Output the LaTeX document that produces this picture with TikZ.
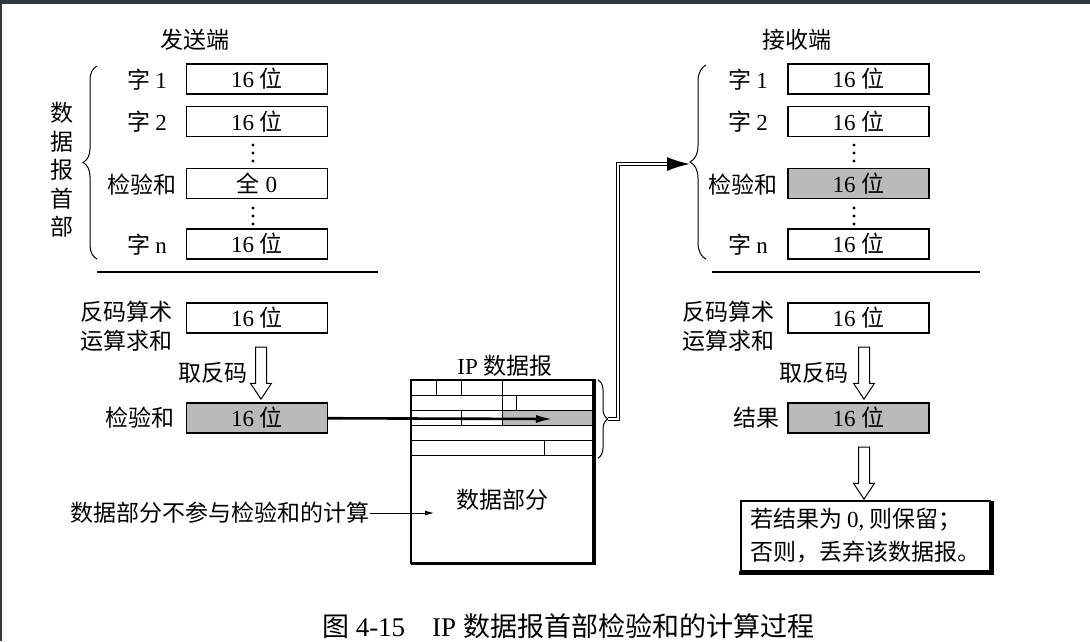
\documentclass[tikz,border=0pt]{standalone}
\usepackage{fontspec}
\setmainfont{Liberation Serif}
\newfontfamily\cjk{Noto Sans CJK SC}
\usetikzlibrary{arrows.meta,positioning,shapes.arrows,decorations.pathreplacing}

\begin{document}
\begin{tikzpicture}[x=1pt,y=-1pt,
  word/.style={draw,line width=1.1pt,minimum width=141pt,minimum height=30pt,inner sep=0pt,font=\fontsize{23}{26}\selectfont},
  shaded/.style={word,fill=black!27},
  lbl/.style={inner sep=0pt,font=\fontsize{23}{29}\selectfont\cjk},
  brace/.style={decorate,decoration={brace,amplitude=14pt},line width=1pt},
  hollow/.style={single arrow,draw,line width=1pt,inner sep=5pt,single arrow head extend=5pt,single arrow tip angle=67,rotate=-90},
  rule/.style={line width=1.1pt},
  cell/.style={line width=0.9pt}]
\useasboundingbox (0,0) rectangle (1090,641);
\fill[fill={rgb,255:red,50;green,55;blue,61}] (0,0) rectangle (1090,4);
\fill[fill={rgb,255:red,50;green,55;blue,61}] (0,0) rectangle (2,641);
% sender
\node[lbl] (sendtitle) at (195,40) {发送端};
\node[word] (sw1) at (257,79) {16 {\cjk 位}};
\node[word] (sw2) at (257,121.5) {16 {\cjk 位}};
\node[word] (sck) at (257,183.5) {{\cjk 全} 0};
\node[word] (swn) at (257,244) {16 {\cjk 位}};
\node[lbl] at (147,80) {字 {\rmfamily 1}};
\node[lbl] at (147,122) {字 {\rmfamily 2}};
\node[lbl] at (142,185) {检验和};
\node[lbl] at (147,245) {字 {\rmfamily n}};
\foreach \y in {145,153,161,208,216,224} \fill (253,\y) circle (1.6);
\draw[brace] (97,259) -- (97,66);
\node[lbl,align=center,font=\fontsize{23}{28.5}\selectfont\cjk] (shead) at (62,170) {数\\据\\报\\首\\部};
\draw[rule] (97,272) -- (378,272);
\node[word] (ssum) at (257,318) {16 {\cjk 位}};
\node[lbl,align=center] at (126,326) {反码算术\\运算求和};
\node[hollow,minimum height=52pt] (sinv) at (261,369) {};
\node[lbl] at (213,373) {取反码};
\node[shaded] (schk) at (257,418) {16 {\cjk 位}};
\node[lbl] at (140,418) {检验和};
% datagram
\node[inner sep=0pt,font=\fontsize{23}{26}\selectfont] (dgtitle) at (505,366) {IP {\cjk 数据报}};
\fill[black!27] (502,410) rectangle (594,425);
\foreach \y in {395,410,425,440,455} \draw[cell] (411,\y) -- (594,\y);
\draw[cell] (436,380) -- (436,395);
\draw[cell] (461,380) -- (461,395);
\draw[cell] (502,380) -- (502,425);
\draw[cell] (516,395) -- (516,410);
\draw[cell] (461,410) -- (461,425);
\draw[cell] (544,440) -- (544,455);
\draw[line width=1.2pt] (411,380) rectangle (594,563);
\draw[line width=4pt] (594,379) -- (594,563.5);
\draw[line width=3pt] (596,563) -- (410.5,563);
\node[lbl] (dgdata) at (502,500) {数据部分};
\draw[brace,decoration={brace,amplitude=10pt}] (598,380) -- (598,458);
\coordinate (dgtip) at (608,419);
\coordinate (cktip) at (553,419);
\draw[line width=2.6pt,-{Latex[length=17pt,width=8pt]}] (schk) -- (cktip);
\node[lbl,anchor=east] (note) at (370,513) {数据部分不参与检验和的计算};
\coordinate (notetip) at (434,513);
\draw[line width=1pt,-{Latex[length=9pt,width=5pt]}] (note) -- (notetip);
% receiver
\node[lbl] (recvtitle) at (797,40) {接收端};
\node[word] (rw1) at (858.5,79) {16 {\cjk 位}};
\node[word] (rw2) at (858.5,121.5) {16 {\cjk 位}};
\node[shaded] (rck) at (858.5,183.5) {16 {\cjk 位}};
\node[word] (rwn) at (858.5,244) {16 {\cjk 位}};
\node[lbl] at (748,80) {字 {\rmfamily 1}};
\node[lbl] at (748,122) {字 {\rmfamily 2}};
\node[lbl] at (743,185) {检验和};
\node[lbl] at (748,245) {字 {\rmfamily n}};
\foreach \y in {145,153,161,208,216,224} \fill (854,\y) circle (1.6);
\draw[brace,decoration={brace,amplitude=16pt}] (706,259) -- (706,65);
\coordinate (rtip) at (690,164);
\draw[line width=1.8pt,double,double distance=1.2pt,-{Latex[length=23pt,width=14pt]}] (dgtip) -- (618,419) |- (rtip);
\draw[rule] (712,272) -- (980,272);
\node[word] (rsum) at (858.5,318) {16 {\cjk 位}};
\node[lbl,align=center] at (728,326) {反码算术\\运算求和};
\node[hollow,minimum height=52pt] (rinv) at (864,369) {};
\node[lbl] at (814,373) {取反码};
\node[shaded] (rres) at (858.5,418) {16 {\cjk 位}};
\node[lbl] at (756,418) {结果};
\node[hollow,minimum height=52pt] (rfin) at (864,469) {};
\node[draw,line width=2pt,minimum width=249pt,minimum height=70pt,align=left,font=\fontsize{23}{33}\selectfont\cjk] (verdict) at (865,536) {若结果为 {\rmfamily 0,} 则保留；\\否则，丢弃该数据报。};
\draw[line width=4pt] (verdict.north east) ++(1,1) -- ([xshift=1pt,yshift=-1pt]verdict.south east) -- ([xshift=-1pt,yshift=-1pt]verdict.south west);
% caption
\node[inner sep=0pt,font=\fontsize{27}{30}\selectfont] (caption) at (568,626) {{\cjk 图} 4-15\quad IP {\cjk 数据报首部检验和的计算过程}};
\end{tikzpicture}
\end{document}
